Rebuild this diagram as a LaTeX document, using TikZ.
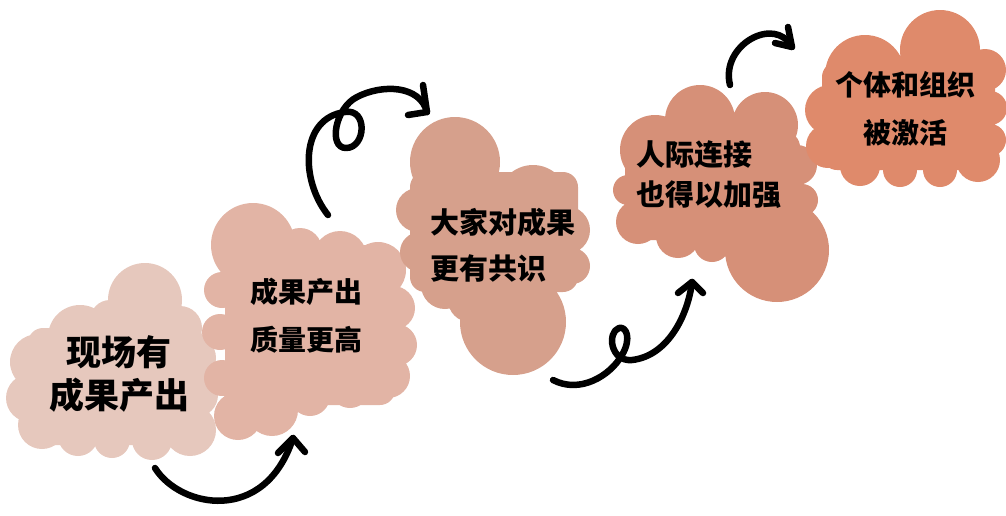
\documentclass[tikz,border=0pt]{standalone}
\usepackage{fontspec}
\newfontfamily\cjk{Noto Sans CJK SC}
\definecolor{bA}{HTML}{E6C8BD}
\definecolor{bB}{HTML}{E2B4A5}
\definecolor{bC}{HTML}{D6A08C}
\definecolor{bD}{HTML}{D69078}
\definecolor{bE}{HTML}{DF8A6B}
\tikzset{
  arr/.style={line width=6.5pt, line cap=round, line join=round, black},
  lbl/.style={text=black, inner sep=0pt},
}
\begin{document}
\begin{tikzpicture}[x=1pt,y=-1pt]
\useasboundingbox (0,0) rectangle (1006,515);
% blob 1
\fill[bA, rounded corners=15pt] (28,328) rectangle (205,445);
\fill[bA] (145,300) circle (37) (80,337) circle (32) (110,320) circle (20) (38,362) circle (28) (30,398) circle (24)
  (42,425) circle (24) (78,436) circle (20) (112,440) circle (18) (152,440) circle (20) (190,430) circle (26)
  (196,395) circle (22) (192,358) circle (24) (180,328) circle (22);
% blob 2
\fill[bB, rounded corners=15pt] (225,245) rectangle (395,405);
\fill[bB] (253,245) circle (42) (300,250) circle (22) (340,258) circle (27) (378,270) circle (28)
  (393,308) circle (22) (396,345) circle (21) (388,376) circle (22) (350,388) circle (20) (310,396) circle (20)
  (272,410) circle (26) (238,416) circle (24) (222,378) circle (18) (220,332) circle (18) (222,290) circle (18);
% blob 3
\fill[bC, rounded corners=15pt] (410,172) rectangle (578,292);
\fill[bC] (455,162) circle (45) (533,200) circle (35) (566,230) circle (24) (572,266) circle (18)
  (513,322) circle (53) (470,300) circle (22) (445,285) circle (24) (420,252) circle (20) (418,210) circle (22);
% blob 4
\fill[bD, rounded corners=15pt] (625,132) rectangle (800,240);
\fill[bD] (700,120) circle (35) (765,125) circle (33) (655,150) circle (35) (797,165) circle (20)
  (802,200) circle (16) (777,250) circle (52) (638,222) circle (22) (678,236) circle (22) (712,244) circle (18)
  (628,190) circle (15);
% blob 5
\fill[bE, rounded corners=15pt] (822,62) rectangle (995,170);
\fill[bE] (940,50) circle (40) (865,75) circle (40) (830,110) circle (25) (828,146) circle (22)
  (860,166) circle (20) (900,170) circle (17) (940,170) circle (17) (978,160) circle (22)
  (985,70) circle (21) (990,108) circle (17) (990,140) circle (16);
% labels
\node[lbl, align=center, font={\cjk\bfseries\fontsize{35}{43}\selectfont}] (t1) at (119,374) {现场有\\成果产出};
\node[lbl, align=left, anchor=west, font={\cjk\bfseries\fontsize{28}{48}\selectfont}] (t2) at (250,316) {成果产出\\质量更高};
\node[lbl, align=left, anchor=west, font={\cjk\bfseries\fontsize{29}{46}\selectfont}] (t3) at (430,245) {大家对成果\\更有共识};
\node[lbl, align=left, anchor=west, font={\cjk\bfseries\fontsize{29}{40}\selectfont}] (t4) at (636,175) {人际连接\\也得以加强};
\node[lbl, align=center, font={\cjk\bfseries\fontsize{28}{48}\selectfont}] (t5) at (905,109) {个体和组织\\被激活};
% arrow 1
\coordinate (a1s) at (155,468);
\coordinate (a1t) at (293,438);
\coordinate (a1l) at (278,453);
\coordinate (a1r) at (305,452);
\draw[arr] (a1s) .. controls (180,508) and (265,525) .. (a1t);
\draw[arr] (a1l) -- (a1t) -- (a1r);
% arrow 2
\coordinate (a2s) at (328,215);
\coordinate (a2t) at (427,112);
\coordinate (a2l) at (423,85);
\coordinate (a2r) at (408,115);
\draw[arr] (a2s) .. controls (300,180) and (300,118) .. (345,112)
  .. controls (368,108) and (366,148) .. (346,148)
  .. controls (328,148) and (335,108) .. (357,97)
  .. controls (382,84) and (420,85) .. (a2t);
\draw[arr] (a2l) -- (a2t) -- (a2r);
% arrow 3
\coordinate (a3s) at (553,380);
\coordinate (a3t) at (692,282);
\coordinate (a3l) at (678,293);
\coordinate (a3r) at (703,293);
\draw[arr] (a3s) .. controls (580,394) and (610,376) .. (622,355)
  .. controls (632,338) and (626,326) .. (619,328)
  .. controls (607,332) and (610,362) .. (632,360)
  .. controls (668,356) and (688,315) .. (a3t);
\draw[arr] (a3l) -- (a3t) -- (a3r);
% arrow 4
\coordinate (a4s) at (730,85);
\coordinate (a4t) at (792,47);
\coordinate (a4l) at (788,27);
\coordinate (a4r) at (775,43);
\draw[arr] (a4s) .. controls (720,45) and (775,15) .. (a4t);
\draw[arr] (a4l) -- (a4t) -- (a4r);
\end{tikzpicture}
\end{document}
